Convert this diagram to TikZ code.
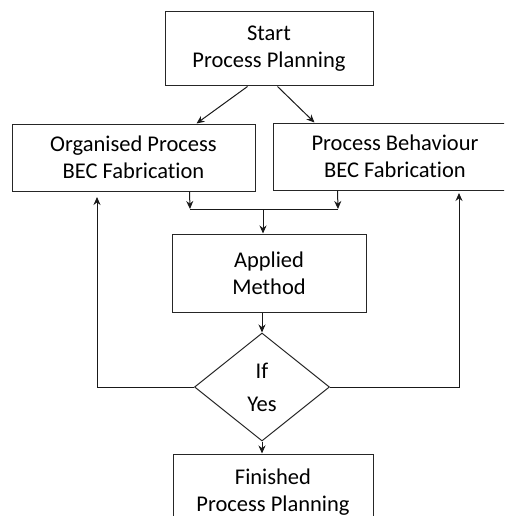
\documentclass[tikz,border=0pt]{standalone}
\usepackage{fontspec}
\setmainfont[Ligatures={NoCommon}]{Carlito}
\usetikzlibrary{shapes.geometric,arrows.meta}
\begin{document}
\begin{tikzpicture}[x=1pt,y=-1pt,
  every node/.style={font=\fontsize{22.5}{27}\selectfont, inner sep=0pt, align=center},
  boxnode/.style={draw=black!85, line width=1pt, rectangle},
  decnode/.style={draw=black!85, line width=1pt, diamond},
  conn/.style={draw=black!90, line width=1pt},
  arr/.style={conn, -{Stealth[length=8pt,width=7pt]}}]
\useasboundingbox (0,0) rectangle (504,516);
\clip (0,0) rectangle (504,516);
\node[boxnode, minimum width=208pt, minimum height=74pt] (start) at (269,49) {Start\\Process Planning};
\node[boxnode, minimum width=243pt, minimum height=67pt] (left) at (133.5,157.5) {Organised Process\\BEC Fabrication};
\node[boxnode, minimum width=244pt, minimum height=67pt] (right) at (395,156.5) {Process Behaviour\\BEC Fabrication};
\node[boxnode, minimum width=194pt, minimum height=78pt] (applied) at (269,273) {Applied\\Method};
\node[decnode, minimum width=135pt, minimum height=108pt] (dec) at (262,387) {If\\[6pt]Yes};
\node[boxnode, minimum width=200pt, minimum height=76pt] (fin) at (273,492) {Finished\\Process Planning};
\coordinate (jl) at (190,209);
\coordinate (jr) at (338,209);
\coordinate (jc) at (263,209);
\coordinate (fbl) at (97,197);
\coordinate (fbr) at (459,193);
\draw[arr] ([xshift=83pt]start.south west) -- ([xshift=185pt]left.north west);
\draw[arr] ([xshift=113pt]start.south west) -- ([xshift=42pt]right.north west);
\draw[arr] ([xshift=178pt]left.south west) -- (jl);
\draw[arr] ([xshift=65pt]right.south west) -- (jr);
\draw[conn] (jl) -- (jr);
\draw[arr] (jc) -- (jc |- applied.north);
\draw[arr] (dec.north |- applied.south) -- (dec.north);
\draw[arr] (dec.south) -- (dec.south |- fin.north);
\draw[arr] (dec.west) -| (fbl);
\draw[arr] (dec.east) -| (fbr);
\end{tikzpicture}
\end{document}
